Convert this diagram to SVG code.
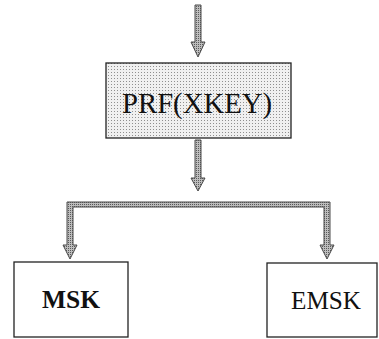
<svg xmlns="http://www.w3.org/2000/svg" width="379" height="339" viewBox="0 0 379 339">
<defs>
<pattern id="dots" width="3" height="3" patternUnits="userSpaceOnUse">
<rect width="3" height="3" fill="#f0f0f0"/>
<rect width="1" height="1" fill="#8f8f8f"/>
</pattern>
<pattern id="hatch" width="2" height="2" patternUnits="userSpaceOnUse">
<rect width="2" height="2" fill="#bdbdbd"/>
<rect width="1" height="1" fill="#5a5a5a"/>
</pattern>
</defs>
<style>
.box{fill:#fff;stroke:#222;stroke-width:1.3}
.arrow{fill:url(#hatch);stroke:#4a4a4a;stroke-width:1}
.lbl{font-family:"Liberation Serif","Times New Roman",serif;fill:#111;text-anchor:middle}
</style>
<rect width="379" height="339" fill="#fff"/>
<g id="connectors">
<path class="arrow" d="M195,5 H201 V42 H205 L198,57 L191,42 H195 Z"/>
<path class="arrow" d="M195,140 H201 V178 H205 L198,191 L191,178 H195 Z"/>
<path class="arrow" d="M67,202 H330 V245 H334 L327,259 L320,245 H324 V207 H73 V245 H77 L70,259 L63,245 H67 Z"/>
</g>
<g id="prf">
<rect x="106" y="63" width="185" height="75" fill="url(#dots)" stroke="#222" stroke-width="1.3"/>
<text class="lbl" x="197" y="113" font-size="30" textLength="150" lengthAdjust="spacingAndGlyphs">PRF(XKEY)</text>
</g>
<g id="msk">
<rect class="box" x="14" y="262" width="114" height="75"/>
<text class="lbl" x="71" y="308" font-size="25" font-weight="bold" textLength="58" lengthAdjust="spacingAndGlyphs">MSK</text>
</g>
<g id="emsk">
<rect class="box" x="267" y="263" width="110" height="74"/>
<text class="lbl" x="326" y="309" font-size="25" textLength="70" lengthAdjust="spacingAndGlyphs">EMSK</text>
</g>
</svg>
